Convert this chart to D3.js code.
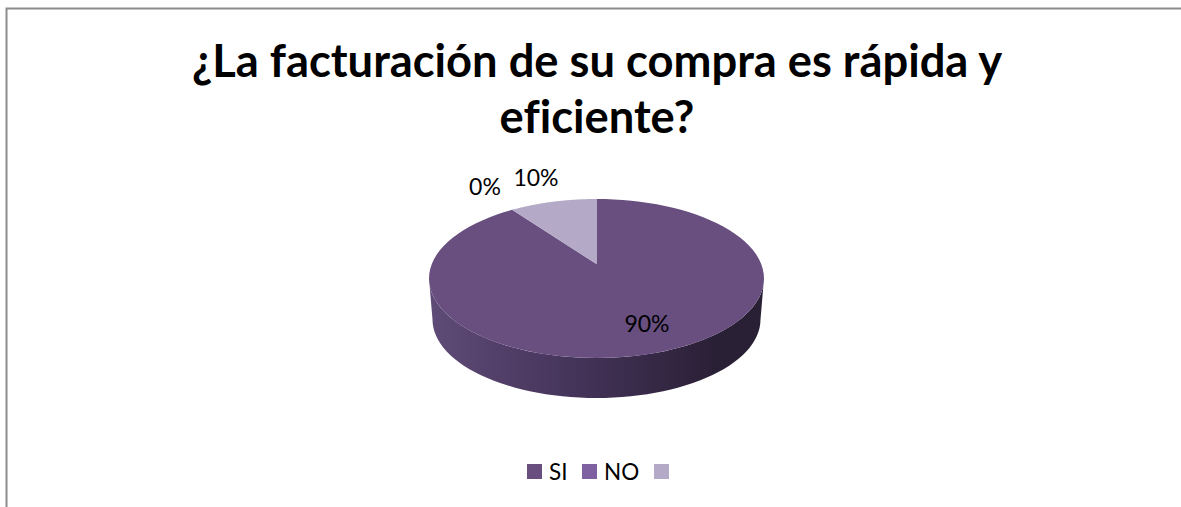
<!DOCTYPE html>
<html><head><meta charset="utf-8">
<script src="https://cdn.jsdelivr.net/npm/d3@7"></script>
<style>html,body{margin:0;padding:0;background:#fff}svg{display:block}text{font-variant-ligatures:none}</style>
</head><body><svg id="c" width="1181" height="507"></svg>
<script>
const titleLines = ["¿La facturación de su compra es rápida y", "eficiente?"];
const categories = ["SI", "NO", ""];
const values = [90, 0, 10];
const labels = ["90%", "0%", "10%"];
const colors = ["#684f80", "#7f60a0", "#b4a9c6"];

const svg = d3.select("#c");
const font = "Lato, 'Open Sans', sans-serif";
const cx = 596.5, cy = 278.5, rx = 167.5, ry = 79.5, d = -0.182, depth = 41;

// border
svg.append("path").attr("d", "M6.5 507V8.5H1181").attr("fill","none").attr("stroke","#8c8c8c").attr("stroke-width",2);

// title
svg.append("g").selectAll("text").data(titleLines).join("text")
  .attr("x", 597).attr("y", (t,i)=>76.5+i*56.5)
  .attr("text-anchor","middle").attr("font-family",font).attr("font-weight",700)
  .attr("font-size",45.3).attr("fill","#000").text(t=>t);

// perspective projection of a unit disc to the top ellipse
function project(r, a){
  const u = r*Math.sin(a), v = -r*Math.cos(a);
  const w = 1 + d*v;
  return [cx + rx*u*Math.sqrt(1-d*d)/w, cy + ry*(v+d)/w];
}
const pie = d3.pie().value(v=>v).sort(null)(values);

const defs = svg.append("defs");
const g = defs.append("linearGradient").attr("id","wall").attr("x1",0).attr("x2",1).attr("y1",0).attr("y2",0);
[[0,"#5f4b77"],[0.35,"#4a3860"],[0.6,"#3a2c4c"],[0.85,"#2a2036"],[1,"#2a2036"]].forEach(s=>g.append("stop").attr("offset",s[0]).attr("stop-color",s[1]));

// wall
const wallPts = d3.range(0,181,3).map(t=>{const a=t*Math.PI/180;return [cx+rx*Math.cos(a),cy+ry*Math.sin(a)];});
const botPts = d3.range(180,-1,-3).map(t=>{const a=t*Math.PI/180;return [cx+(rx-3.5)*Math.cos(a),cy+depth+(ry-1)*Math.sin(a)];});
svg.append("path").attr("d",d3.line()(wallPts.concat(botPts))+"Z").attr("fill","url(#wall)");

// top: slices from pie angles
const steps = 90;
svg.append("g").selectAll("path").data(pie).join("path")
  .attr("fill",(p,i)=>colors[i])
  .attr("d",p=>{
    const pts=[project(0,0)];
    for(let k=0;k<=steps;k++){pts.push(project(1,p.startAngle+(p.endAngle-p.startAngle)*k/steps));}
    return d3.line()(pts)+"Z";
  });

// data labels
const labelPos = [[647,332],[485,195],[536,186]];
svg.append("g").selectAll("text").data(labels).join("text")
  .attr("x",(t,i)=>labelPos[i][0]).attr("y",(t,i)=>labelPos[i][1])
  .attr("text-anchor","middle").attr("font-family",font).attr("font-size",23).attr("fill","#000").text(t=>t);

// legend
const xs=[527,582,654];
const lg = svg.append("g").selectAll("g").data(categories).join("g").attr("transform",(c,i)=>`translate(${xs[i]},464)`);
lg.append("rect").attr("width",15).attr("height",15).attr("fill",(c,i)=>colors[i]);
lg.append("text").attr("x",22).attr("y",16).attr("font-family",font).attr("font-size",22.5).attr("fill","#000").text(c=>c);
</script></body></html>
